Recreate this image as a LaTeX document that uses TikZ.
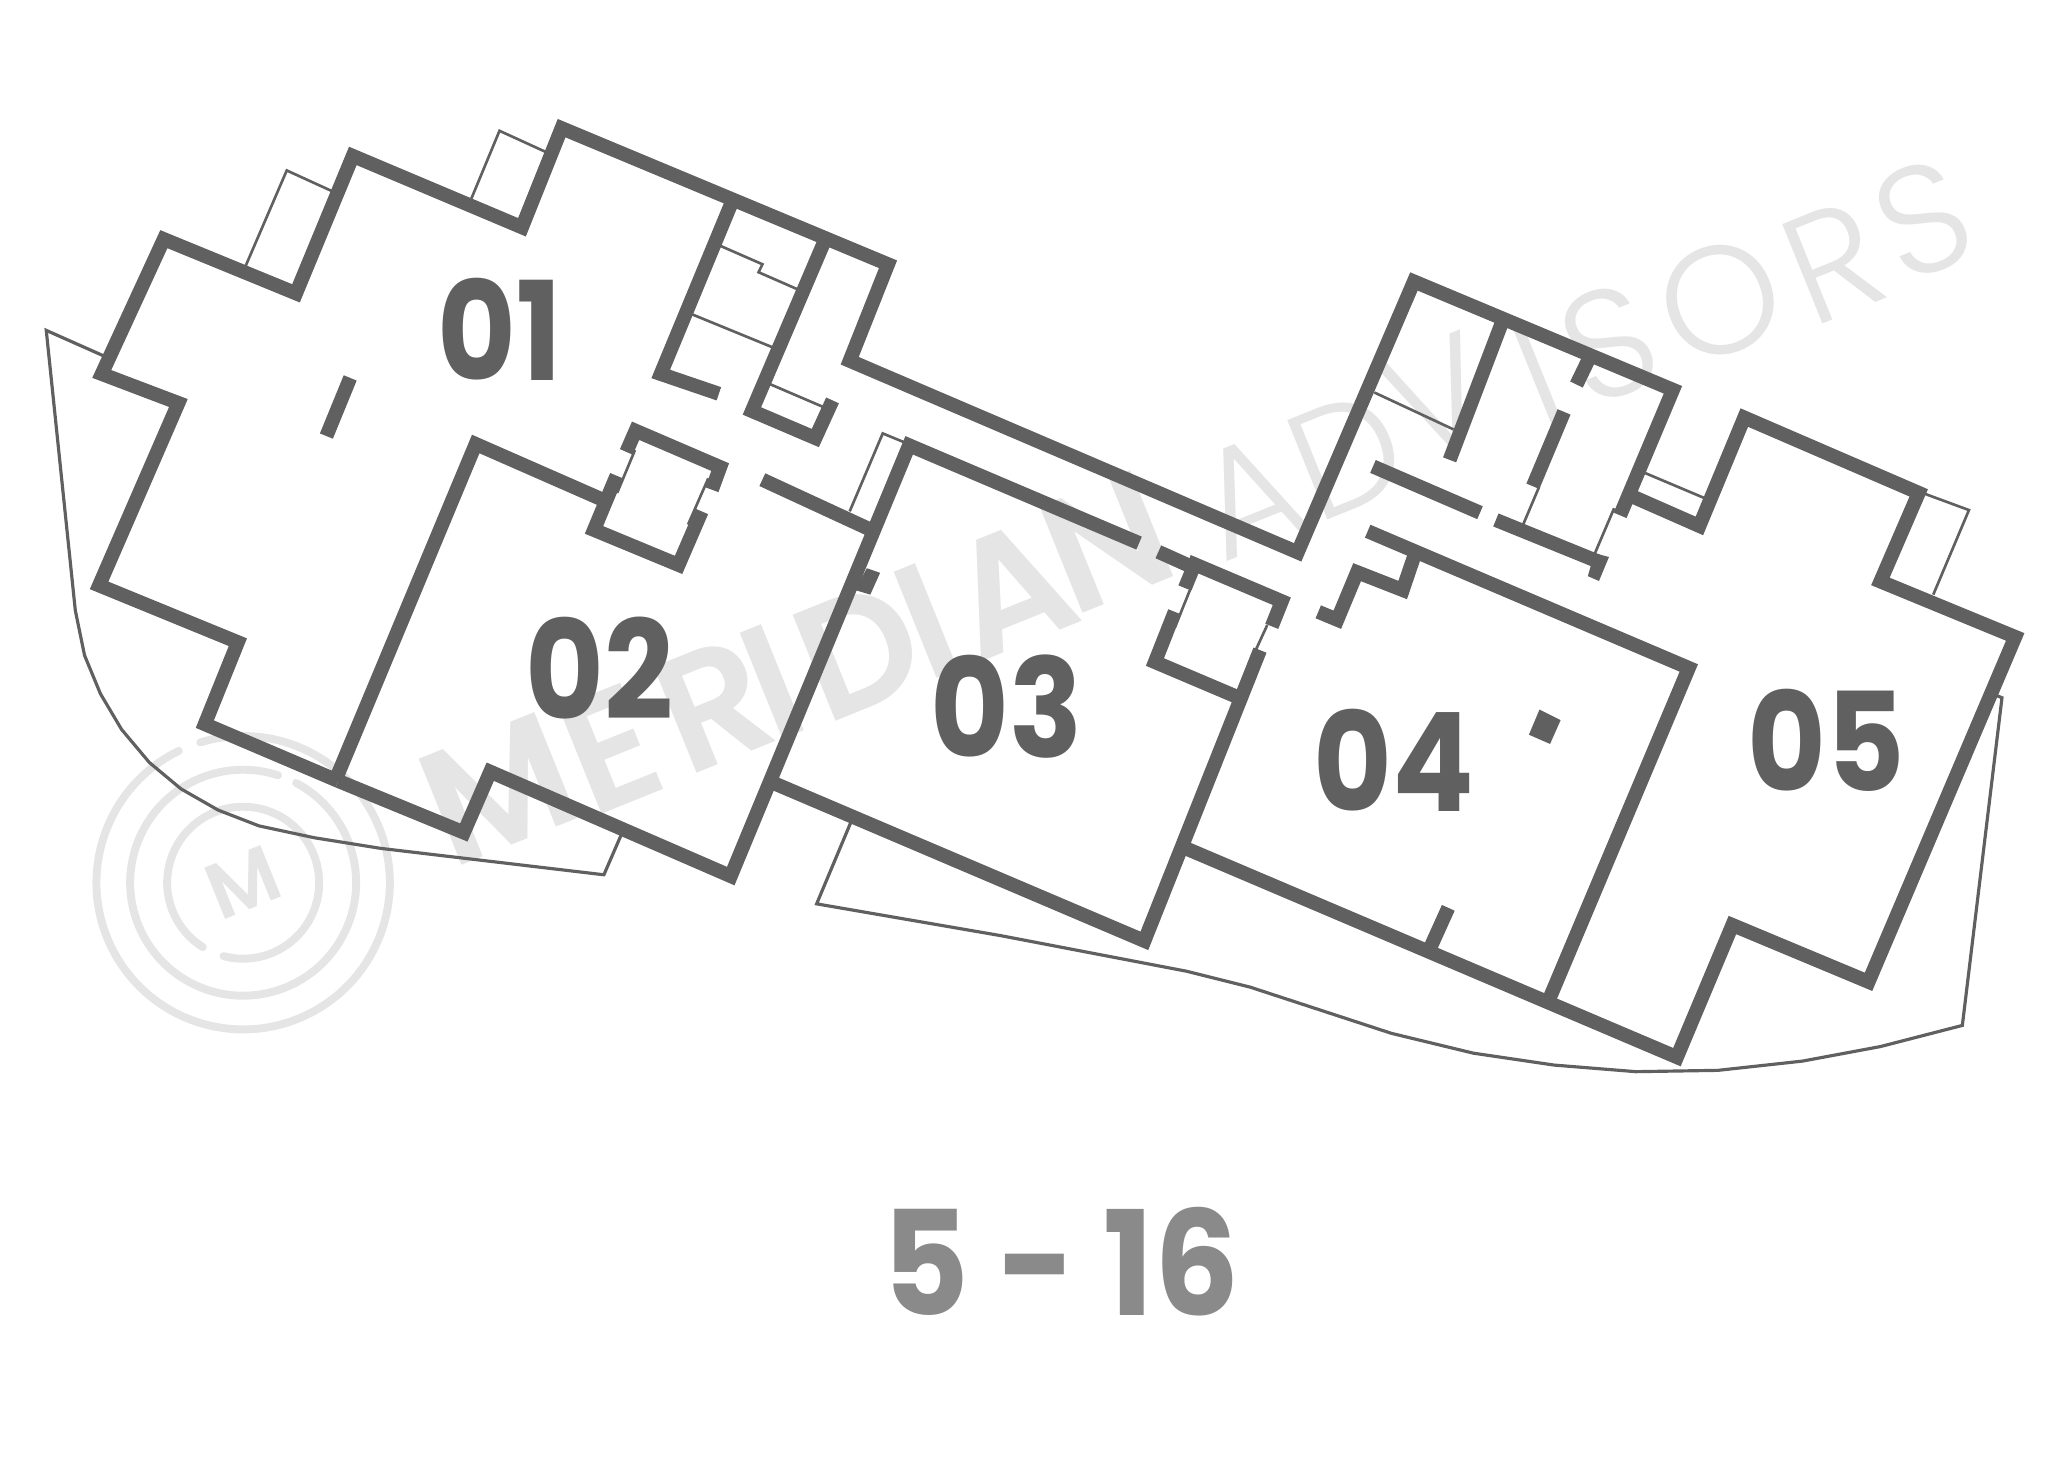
\documentclass[tikz,border=0pt]{standalone}
\usepackage{fontspec}
\setmainfont{Poppins}
\newfontfamily\digitfont[UprightFont=* Bold]{Poppins}
\newfontfamily\markheavy[UprightFont=* SemiBold]{Poppins}
\newfontfamily\marklight[UprightFont=* Light]{Poppins}
\definecolor{wallc}{HTML}{606060}
\definecolor{markc}{HTML}{E5E5E5}
\definecolor{levelc}{HTML}{8A8A8A}
\tikzset{
  wall/.style={draw=wallc,line width=5.3pt,miter limit=10},
  thin/.style={draw=wallc,line width=1pt},
  terrace/.style={draw=wallc,line width=1.2pt},
  solid block/.style={fill=wallc,draw=none},
  unitnum/.style={text=wallc,inner sep=0pt,xscale=0.88,font=\digitfont\fontsize{52}{52}\selectfont},
  heavyletter/.style={text=markc,inner sep=0pt,rotate=22,font=\markheavy\fontsize{62}{62}\selectfont},
  lightletter/.style={text=markc,inner sep=0pt,rotate=22,font=\marklight\fontsize{58}{58}\selectfont},
  ring/.style={draw=markc,line width=3pt,line cap=round}
}
\begin{document}
\begin{tikzpicture}[x=0.5pt,y=-0.5pt]
\useasboundingbox (0,0) rectangle (1568,1105.6);
% watermark
\node[heavyletter] (w1) at (377,597) {M};
\node[heavyletter] (w2) at (462,567) {E};
\node[heavyletter] (w3) at (540,533) {R};
\node[heavyletter] (w4) at (584,516) {I};
\node[heavyletter] (w5) at (650,492) {D};
\node[heavyletter] (w6) at (701,470) {I};
\node[heavyletter] (w7) at (765,445) {A};
\node[heavyletter] (w8) at (838,410) {N};
\node[lightletter] (w9) at (945,375) {A};
\node[lightletter] (w10) at (1019,344) {D};
\node[lightletter] (w11) at (1088,300) {V};
\node[lightletter] (w12) at (1164,284) {I};
\node[lightletter] (w13) at (1218,260) {S};
\node[lightletter] (w14) at (1302,227) {O};
\node[lightletter] (w15) at (1387,198) {R};
\node[lightletter] (w16) at (1455,166) {S};
\begin{scope}[shift={(184,668)},y=0.5pt]
  \draw[ring] (116:111) arc[start angle=116,end angle=467,radius=111];
  \draw[ring] (62:85.5) arc[start angle=62,end angle=-288,radius=85.5];
  \draw[ring] (255:57.5) arc[start angle=255,end angle=598,radius=57.5];
  \node[heavyletter,font=\markheavy\fontsize{30}{30}\selectfont] (logom) at (0,0) {M};
\end{scope}
% terraces
\draw[terrace] (80,270) -- (35,250) -- (57,462) -- (64,496) -- (76,525) -- (92,552) -- (113,577) -- (137,597) -- (165,613) -- (196,625) -- (238,634) -- (288,642) -- (457,662) -- (470,632);
\draw[terrace] (644,622) -- (618,684) -- (757,708) -- (898,735) -- (946,747) -- (1053,782) -- (1115,797) -- (1176,806) -- (1238,811) -- (1300,810) -- (1364,803) -- (1423,792) -- (1485,776) -- (1515,528) -- (1510,526);
% thin balconies and door lines
\draw[thin] (186,201) -- (217,129) -- (252,145);
\draw[thin] (356,152) -- (378,99) -- (413,115);
\draw[thin] (545,186) -- (577,200) -- (574,206) -- (606,220);
\draw[thin] (524,238) -- (585,263);
\draw[thin] (581,290) -- (623,308);
\draw[thin] (480.5,340.6) -- (467,373);
\draw[thin] (536,362) -- (520.7,397);
\draw[thin] (643,387) -- (668,328) -- (685,335);
\draw[thin] (900.5,446.5) -- (889,475);
\draw[thin] (959,473) -- (947.5,498);
\draw[thin] (1040,297) -- (1100,325);
\draw[thin] (1164.7,368.5) -- (1152.5,397.3);
\draw[thin] (1221.5,384.6) -- (1207,418.6);
\draw[thin] (1245,358) -- (1290,377);
\draw[thin] (1452,372) -- (1490,386) -- (1463,450);
% main walls
\draw[wall] (256,591) -- (155,548) -- (180,486) -- (75,443) -- (135,305) -- (77,283) -- (124,181) -- (224,222) -- (267,118) -- (395,172) -- (425,97) -- (672,200) -- (643,273) -- (982,418) -- (1070,213) -- (1266,295) -- (1226,390);
\draw[wall] (1236,376) -- (1286,398) -- (1320,316) -- (1452,373) -- (1423,440) -- (1525,482) -- (1414,743) -- (1311,700) -- (1269,800) -- (895,641);
\draw[wall] (265,286) -- (247,330);
\draw[wall] (553,155) -- (500,283) -- (544,298);
\draw[wall] (625,180) -- (569,311) -- (617,331.5) -- (630,303);
% unit 02
\draw[wall] (458,379) -- (360,336) -- (254,590);
\draw[wall] (256,591) -- (351,630) -- (371,584) -- (553,663) -- (688,337) -- (862,411);
\draw[wall] (466.6,360) -- (449.5,401) -- (513.5,427.5) -- (531,387);
\draw[wall] (474,342) -- (481,326) -- (545,353.5) -- (538.7,370.6);
\draw[wall] (576.9,363) -- (657,400);
\fill[solid block] (656,430) -- (666,433.5) -- (658.6,450) -- (647,446.5) -- cycle;
% unit 03
\draw[wall] (584,592) -- (866,712) -- (953.5,492);
\draw[wall] (876.6,417.6) -- (902,429);
\draw[wall] (896.7,445) -- (904,427) -- (970,455) -- (962.4,474);
\draw[wall] (889,463) -- (874,501) -- (940,529);
% unit 04
\draw[wall] (1035,402) -- (1278,505.5) -- (1172,757);
\draw[wall] (1071,418.5) -- (1061.5,446.5) -- (1027,433) -- (1012,469) -- (997.6,463);
\draw[wall] (1096,687) -- (1082,718);
\fill[solid block] (1165,537) -- (1181,545) -- (1173,563) -- (1157,556) -- cycle;
% upper right rooms
\draw[wall] (1137,243) -- (1097,348);
\draw[wall] (1202,272.4) -- (1193,291);
\draw[wall] (1183.6,311.7) -- (1160,368);
\draw[wall] (1039,353) -- (1120,388);
\draw[wall] (1132,393.5) -- (1212,426);
\fill[solid block] (1206.5,418.6) -- (1217.6,421.5) -- (1210,439.7) -- (1201.6,436) -- cycle;
% labels
\node[unitnum] (u1) at (378,249.5) {01};
\node[unitnum] (u2) at (454,505.5) {02};
\node[unitnum] (u3) at (762,535) {03};
\node[unitnum] (u4) at (1055,575) {04};
\node[unitnum] (u5) at (1382,560) {05};
\node[text=levelc,inner sep=0pt,xscale=0.92,font=\digitfont\fontsize{55}{55}\selectfont] (lvl) at (803,955) {5 - 16};
\end{tikzpicture}
\end{document}
